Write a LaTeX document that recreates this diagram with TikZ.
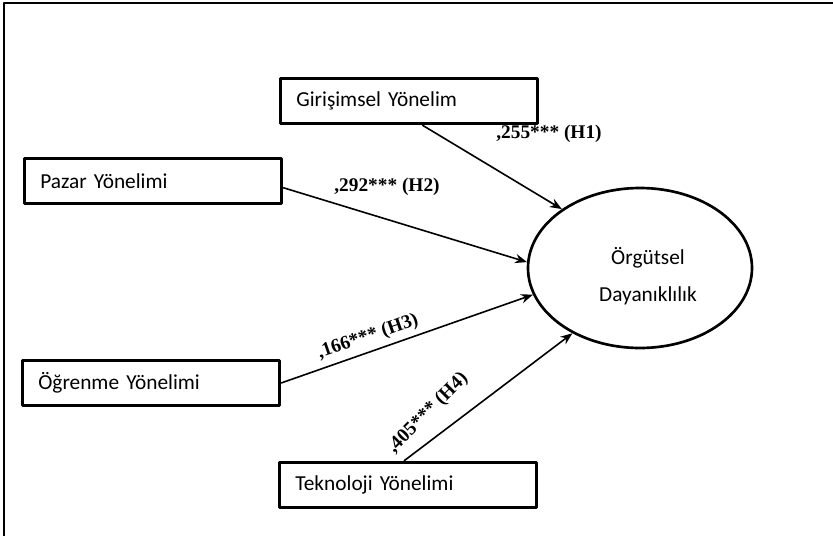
\documentclass[tikz,border=0pt]{standalone}
\usepackage{fontspec}
\setmainfont{Liberation Serif}
\newfontfamily\kutufont{Carlito}
\usetikzlibrary{arrows.meta,shapes.geometric}
\begin{document}
\begin{tikzpicture}[x=0.75pt, y=-0.75pt, line join=round, >={Stealth[length=9pt,width=7pt]},
		yon/.style={draw, line width=2.2pt, minimum width=193pt, minimum height=34pt, inner xsep=12pt, text width=169pt, align=left, font=\kutufont\fontsize{16}{19}\selectfont},
		katsayi/.style={font=\bfseries\fontsize{14.5}{16}\selectfont, inner sep=1pt},
		yol/.style={->, line width=1.2pt}]
	\useasboundingbox (0,0) rectangle (833,536);
	% cerceve (sadece ust ve sol kenar gorunuyor)
	\draw[line width=1.6pt] (4,536) -- (4,3) -- (833,3);
	
	% degiskenler
	\node[yon] (gy) at (409,101) {Girişimsel Yönelim};
	\node[yon] (py) at (153,181) {Pazar Yönelimi};
	\node[yon] (oy) at (151,383) {Öğrenme Yönelimi};
	\node[yon] (ty) at (408,485) {Teknoloji Yönelimi};
	\node[draw, ellipse, line width=2pt, minimum width=168pt, minimum height=120pt, inner sep=0pt] (od) at (640,268) {};
	\node[align=center, font=\kutufont\fontsize{16}{28}\selectfont] (odm) at (648,276) {Örgütsel\\Dayanıklılık};
	
	% yollar
	\draw[yol] ([xshift=10pt]gy.south) -- (od.143);
	\draw[yol] ([yshift=-5pt]py.east) -- (od.177);
	\draw[yol] (oy.east) -- (od.194);
	\draw[yol] ([xshift=-3pt]ty.north) -- (od.224);
	
	% katsayilar
	\node[katsayi] (k1) at (549,134) {,255*** (H1)};
	\node[katsayi] (k2) at (387,187) {,292*** (H2)};
	\node[katsayi, rotate=19] (k3) at (368,337) {,166*** (H3)};
	\node[katsayi, rotate=45] (k4) at (428,413) {,405*** (H4)};
\end{tikzpicture}
\end{document}
